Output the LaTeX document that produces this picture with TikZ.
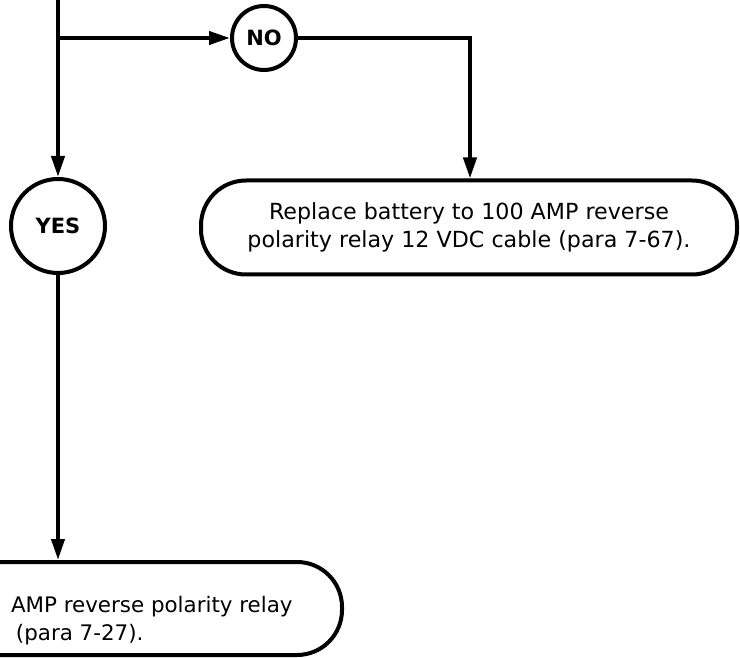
\documentclass[tikz,border=0pt]{standalone}
\usepackage{fontspec}
\setmainfont{DejaVu Sans}
\usetikzlibrary{arrows.meta}
\begin{document}
\begin{tikzpicture}[x=1pt,y=-1pt,
  line width=4pt,
  flow/.style={-{Triangle[length=21pt,width=13pt]}},
  decision/.style={circle,draw,inner sep=0pt,font=\fontsize{21}{24}\selectfont\bfseries},
  action/.style={draw,rounded corners=45pt,inner sep=0pt},
  txt/.style={font=\fontsize{22.2}{28}\selectfont,inner sep=0pt},
  txtb/.style={font=\fontsize{21.4}{28}\selectfont,inner sep=0pt}]
\useasboundingbox (0,0) rectangle (740,658);
\coordinate (top) at (58,-5);
\coordinate (br) at (58,38);
\node[decision,minimum size=64pt] (no) at (264,38) {NO};
\node[decision,minimum size=94pt] (yes) at (58,226) {YES};
\node[action,minimum width=536pt,minimum height=94pt] (rbox) at (469,227.5) {};
\node[txt,align=center] (rtext) at (469,227) {Replace battery to 100 AMP reverse\\polarity relay 12 VDC cable (para 7-67).};
\node[action,minimum width=600pt,minimum height=93pt] (lbox) at (42,608.5) {};
\node[txtb,anchor=base west] (l1) at (9,612) {AMP reverse polarity relay};
\node[txtb,anchor=base west] (l2) at (14,640) {(para 7-27).};
\draw[flow] (top) -- (yes.north);
\draw[flow] (br) -- (no);
\draw[flow] (no.east) -| (rbox.north -| 470,0);
\draw[flow] (yes.south) -- (yes.south |- lbox.north);
\end{tikzpicture}
\end{document}
